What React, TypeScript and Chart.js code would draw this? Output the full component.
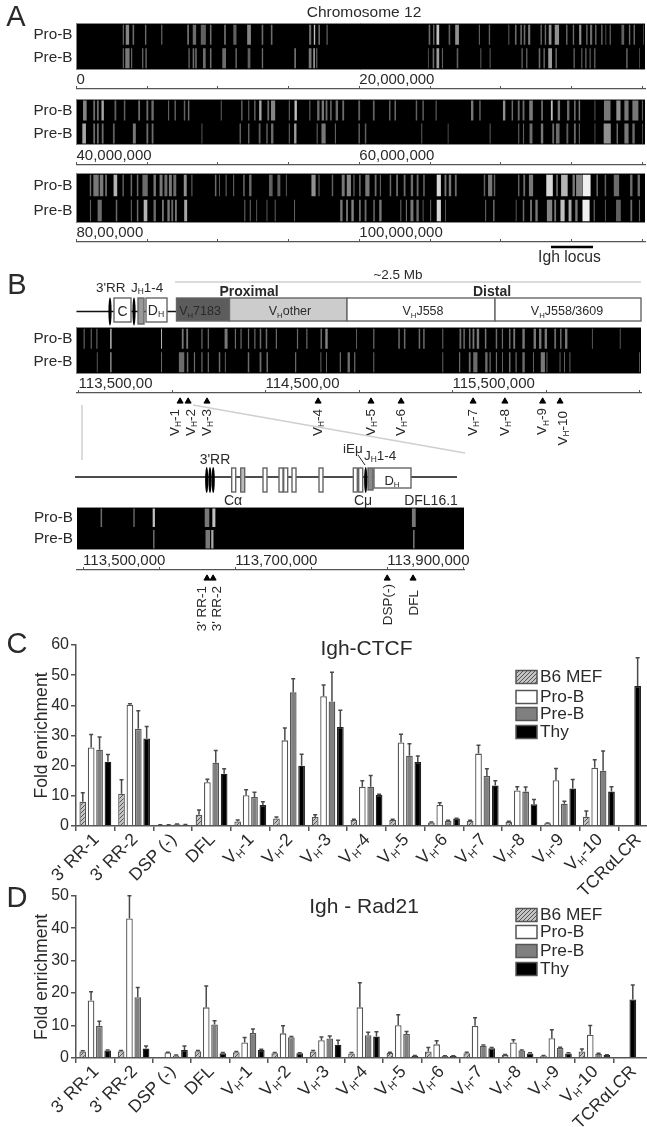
import React, { useEffect, useRef } from "react";
import { Chart, registerables } from "chart.js";
Chart.register(...registerables);

const FONT = '"Liberation Sans", Arial, sans-serif';
Chart.defaults.font.family = FONT;
const INK = "#2a2a2a";

// ---------- binding data ----------
const categories = ["3' RR-1", "3' RR-2", "DSP (-)", "DFL", "V_H-1", "V_H-2", "V_H-3", "V_H-4", "V_H-5", "V_H-6", "V_H-7", "V_H-8", "V_H-9", "V_H-10", "TCRαLCR"];
const seriesNames = ["B6 MEF", "Pro-B", "Pre-B", "Thy"];

const ctcfMef = [8, 10.7, 0.3, 3.7, 1.5, 2.5, 3, 2, 2, 1.2, 1.7, 1.4, 0.9, 3.1, null];
const ctcfPro = [26, 40.2, 0.3, 14.5, 10.2, 28.4, 43, 13, 27.7, 7, 24, 11.8, 15.2, 19.3, null];
const ctcfPre = [25.3, 32.2, 0.6, 21, 9.6, 44.3, 41.3, 13, 23.3, 1.7, 16.6, 11.4, 7.4, 18.3, null];
const ctcfThy = [21.3, 29, 0.4, 17.3, 7, 20, 32.8, 10.3, 21.2, 2.5, 13.4, 7.2, 12.4, 11.4, 46.4];
const ctcfMefErr = [3, 4.6, 0.1, 1.6, 0.5, 0.5, 0.7, 0.2, 0.2, 0.1, 0.2, 0.2, 0.1, 1.9, null];
const ctcfProErr = [4.3, 0.3, 0.1, 1, 1.8, 4.1, 3.7, 2, 2.7, 0.7, 2.8, 1.2, 3.9, 2.7, null];
const ctcfPreErr = [4.2, 6, 0.1, 4, 1.6, 4.5, 9.7, 3.7, 4, 0.2, 2.4, 1.5, 0.8, 6.6, null];
const ctcfThyErr = [2.4, 4, 0.1, 1.7, 1, 3.8, 5.6, 0.2, 2, 0.1, 1.6, 1.6, 3, 1.6, 9.4];

const radMef = [2, 2.1, 0.3, 2.1, 1.8, 1.5, 2, 1.4, 1.6, 2, 1.5, 1, 0.7, 2, null];
const radPro = [17.7, 43, 1.7, 15.6, 4.8, 7.6, 5.5, 15.6, 10.1, 4.2, 9.9, 4.8, 6.1, 7.2, null];
const radPre = [9.9, 18.7, 0.8, 10.3, 7.7, 6.4, 6, 7, 7.4, 0.6, 3.8, 2.3, 3.1, 1.3, null];
const radThy = [2.3, 2.9, 2.5, 1.5, 2.5, 1.5, 4.1, 6.6, 0.7, 0.6, 3, 1.4, 1.4, 0.9, 18];
const radMefErr = [0.2, 0.2, 0, 0.2, 0.2, 0.2, 0.3, 0.3, 0.2, 1.2, 0.3, 0.1, 0.1, 0.8, null];
const radProErr = [2.7, 7, 0.1, 6.6, 1.5, 2.3, 1, 7.6, 3.2, 1.1, 2.5, 0.8, 2.6, 2.8, null];
const radPreErr = [1.4, 3, 0.1, 1.2, 1.2, 0.2, 0.8, 0.9, 0.8, 0.1, 0.2, 0.2, 0.2, 0.2, null];
const radThyErr = [0.2, 0.8, 1.2, 0.2, 0.2, 0.1, 1.4, 1.5, 0.1, 0.1, 0.2, 0.2, 0.2, 0.1, 4.5];

// ---------- signal tracks: [centre in Mb, width in Mb, signal 0-1] ----------
type Band = [number, number, number];
const a1Pro: Band[] = [[3.31,.1,.45],[3.6,.3,.55],[4.02,.14,.45],[4.89,.12,.45],[6.03,.1,.45],[7.89,.12,.6],[8.34,.3,.45],[8.97,.45,.4],[9.49,.14,.45],[10.5,.14,.5],[11.2,.28,.4],[12.2,.33,.55],[13.15,.14,.45],[13.8,.14,.45],[16.52,.19,.45],[16.83,.12,.8],[17.16,.14,.45],[17.72,.1,.45],
[24.96,.14,.45],[25.26,.12,.45],[25.55,.24,.8],[26.37,.14,.4],[26.91,.33,.6],[28.49,.1,.4],[29.2,.12,.4],[30.57,.1,.35],[31.06,.14,.45],[31.44,.14,.45],[31.68,.14,.45],[32.01,.19,.5],[32.86,.12,.45],[33.16,.12,.45],[33.49,.24,.6],[33.97,.38,.6],[34.67,.12,.45],[35.14,.12,.45],[35.62,.19,.6],[36.09,.12,.45],[36.39,.19,.45],[36.72,.12,.45],[37.15,.12,.45],[37.43,.07,.4],[37.74,.1,.45],[38.63,.24,.4],[39.11,.12,.45],[39.44,.12,.45],[40.1,.07,.35]];
const a1Pre: Band[] = [[3.31,.1,.45],[3.6,.38,.5],[3.9,.1,.45],[4.68,.12,.4],[4.92,.12,.45],[7.96,.1,.5],[8.27,.14,.45],[8.45,.14,.45],[9.04,.24,.45],[9.49,.14,.45],[10.44,.33,.45],[11.29,.14,.4],[12.2,.24,.4],[13.15,.12,.45],[15.46,.14,.5],[16.52,.24,.5],[16.8,.12,.8],[16.99,.1,.45],
[24.88,.07,.4],[25.24,.14,.45],[25.55,.24,.65],[25.88,.1,.4],[26.94,.14,.4],[28.59,.1,.35],[29.25,.1,.35],[31.51,.12,.4],[31.84,.12,.4],[32.74,.14,.45],[33.07,.12,.45],[33.49,.33,.65],[33.92,.14,.4],[35.19,.12,.4],[35.73,.1,.4],[36.02,.12,.4],[36.32,.1,.4],[36.65,.12,.4],[38.92,.14,.4],[39.81,.07,.35]];
const a2Pro: Band[] = [[40.59,.32,.55],[41.25,.16,.45],[41.51,.16,.45],[41.85,.21,.7],[42.75,.16,.4],[43.4,.13,.4],[44.43,.16,.45],[45.01,.16,.45],[45.38,.21,.45],[46.51,.1,.4],[46.98,.13,.4],[47.64,.13,.4],[47.93,.13,.45],[50.24,.1,.35],[51.69,.13,.4],[52.18,.1,.4],[52.61,.13,.4],[53,.21,.7],[53.56,.16,.45],[53.9,.37,.55],[55.05,.1,.4],[55.5,.21,.8],[56.5,.1,.4],[57.1,.21,.45],[57.42,.21,.5],[57.68,.16,.45],[57.99,.13,.45],[58.41,.21,.45],[58.86,.16,.45],[59.99,.16,.4],[61.02,.16,.4],[62.15,.13,.4],[62.54,.13,.45],[64.04,.13,.4],[64.51,.13,.4],[65.43,.1,.4],[67.98,.21,.5],[68.53,.13,.4],[70.24,.21,.6],[70.82,.13,.45],[71.27,.16,.45],[71.61,.16,.45],[72.14,.32,.5],[72.92,.16,.45],[73.61,.16,.8],[74.11,.21,.5],[74.77,.21,.45],[75.24,.13,.5],[75.56,.13,.5],[76.66,.08,.4],[77.53,.58,.5],[78.32,.37,.6],[78.89,.37,.5],[79.52,.53,.5],[80.02,.1,.4]];
const a2Pre: Band[] = [[40.54,.32,.7],[41.25,.16,.45],[41.51,.16,.45],[41.85,.16,.45],[42.64,.16,.4],[44.09,.26,.5],[45.01,.16,.45],[45.38,.16,.45],[48.87,.08,.4],[51.58,.13,.4],[52.18,.13,.4],[52.95,.16,.4],[53.47,.13,.4],[53.84,.21,.45],[55.05,.1,.4],[55.47,.21,.65],[57.02,.1,.4],[57.47,.37,.5],[58.31,.1,.4],[59.99,.13,.4],[60.44,.13,.4],[64.41,.1,.35],[66.28,.08,.35],[69.25,.1,.35],[71.27,.1,.4],[71.61,.1,.4],[72.14,.26,.45],[72.92,.21,.5],[73.71,.16,.45],[74.03,.32,.45],[74.71,.16,.4],[75.24,.16,.45],[75.56,.1,.4],[76.66,.08,.35],[77.53,.63,.6],[78.24,.13,.45],[78.89,.37,.5],[79.39,.21,.45],[80.02,.08,.35]];
const a3Pro: Band[] = [[80.99,.13,.45],[81.38,.47,.5],[81.77,.32,.5],[82.09,.16,.45],[82.75,.32,.75],[83.3,.13,.4],[83.88,.13,.45],[84.32,.13,.45],[84.85,.47,.45],[85.53,.21,.5],[85.98,.26,.5],[86.32,.26,.45],[86.64,.26,.5],[86.95,.26,.45],[87.69,.26,.6],[88.16,.1,.4],[89.84,.13,.45],[90.11,.08,.4],[90.58,.1,.4],[91.11,.1,.4],[91.84,.13,.45],[92.29,.21,.45],[93.74,.32,.4],[94.31,.26,.4],[94.84,.08,.4],[96.76,.37,.6],[97.15,.1,.4],[98.1,.13,.4],[98.86,.26,.5],[99.26,.37,.55],[99.62,.1,.45],[100.04,.13,.45],[100.57,.37,.5],[101.15,.16,.45],[101.49,.1,.4],[102.2,.13,.45],[102.67,.16,.45],[103.2,.16,.45],[103.72,.21,.45],[104.12,.16,.45],[104.57,.13,.45],[105.62,.37,.9],[106.09,.16,.5],[106.41,.21,.5],[106.82,.16,.45],[108.85,.13,.4],[109.25,.37,.5],[109.56,.13,.4],[111.27,.13,.4],[111.66,.16,.45],[112.14,.37,.5],[113.45,.58,.9],[113.98,.13,.5],[114.5,.58,.75],[115.16,.21,.5],[115.56,.58,.55],[116.08,.68,1],[116.82,.13,.45],[117.4,.13,.4],[118.18,.47,.45],[119.23,.21,.45],[119.76,.21,.45]];
const a3Pre: Band[] = [[80.99,.1,.4],[81.64,.37,.45],[82.83,.13,.45],[83.88,.1,.4],[84.32,.13,.45],[84.88,.32,.75],[85.53,.21,.45],[86.11,.16,.5],[86.51,.21,.5],[86.77,.16,.45],[87.03,.16,.5],[87.72,.26,.7],[91.9,.1,.4],[92.29,.1,.4],[92.74,.08,.4],[93.47,.08,.4],[94.05,.08,.45],[95.42,.08,.45],[98.73,.21,.5],[99.13,.16,.5],[99.52,.21,.55],[100.04,.16,.45],[100.44,.16,.45],[101.04,.13,.45],[101.49,.21,.5],[102.93,.1,.4],[103.33,.1,.45],[103.72,.26,.5],[104.12,.21,.45],[104.51,.08,.4],[105.04,.1,.4],[105.62,.37,.9],[106.09,.08,.4],[108.93,.1,.4],[109.51,.13,.45],[111.09,.08,.4],[111.61,.13,.45],[112.14,.16,.5],[112.53,.21,.5],[113.45,.47,.55],[113.85,.16,.5],[114.37,.37,.8],[114.9,.26,.7],[115.35,.21,.5],[116.03,.63,1],[116.61,.1,.45],[117.4,.08,.4],[118.32,.42,.4],[119.23,.16,.45],[119.81,.1,.4]];
const bPro: Band[] = [[113.53,.008,.4],[113.568,.008,.4],[113.598,.008,.4],[113.673,.008,.95],[113.944,.006,.85],[114.057,.012,.5],[114.081,.012,.5],[114.16,.008,.45],[114.194,.008,.45],[114.289,.02,.5],[114.339,.008,.45],[114.369,.008,.45],[114.409,.008,.45],[114.443,.008,.45],[114.473,.01,.45],[114.505,.01,.45],[114.558,.008,.45],[114.671,.008,.45],[114.721,.008,.45],[114.798,.01,.45],[114.826,.016,.55],[114.987,.006,.45],[115.079,.008,.45],[115.214,.01,.45],[115.244,.01,.45],[115.323,.01,.45],[115.347,.01,.45],[115.448,.006,.5],[115.542,.012,.45],[115.562,.01,.45],[115.592,.01,.45],[115.612,.012,.5],[115.636,.016,.5],[115.677,.01,.5],[115.735,.01,.45],[115.767,.008,.45],[115.806,.01,.45],[115.83,.012,.5],[115.88,.016,.5],[115.94,.016,.5],[115.969,.016,.5],[115.999,.016,.5],[116.049,.012,.45],[116.079,.01,.45],[116.108,.016,.5],[116.248,.006,.4],[116.397,.006,.4]];
const bPre: Band[] = [[113.6,.006,.4],[113.673,.006,.95],[113.944,.006,.5],[114.051,.036,.45],[114.083,.01,.45],[114.12,.008,.45],[114.16,.008,.45],[114.194,.008,.45],[114.254,.01,.45],[114.285,.006,.45],[114.409,.01,.45],[114.473,.012,.45],[114.509,.01,.45],[114.661,.008,.45],[114.796,.006,.45],[114.826,.006,.45],[114.9,.008,.45],[114.945,.016,.45],[114.977,.008,.45],[115.079,.006,.5],[115.448,.006,.45],[115.538,.008,.45],[115.592,.012,.45],[115.622,.028,.45],[115.681,.016,.45],[115.701,.008,.45],[115.735,.008,.45],[115.767,.006,.45],[115.806,.01,.45],[115.84,.008,.45],[115.88,.016,.45],[115.933,.006,.45],[115.983,.028,.5],[116.005,.006,.45],[116.075,.006,.45],[116.099,.006,.45],[116.128,.006,.45],[116.5,.006,.4]];
const b2Pro: Band[] = [[113.524,.002,.45],[113.567,.002,.4],[113.593,.003,.8],[113.663,.006,.5],[113.672,.004,.8],[113.935,.005,.5]];
const b2Pre: Band[] = [[113.593,.002,.45],[113.664,.006,.5],[113.67,.003,.7],[113.935,.002,.5]];

const rowNames = ["Pro-B", "Pre-B"];
const a1Ticks = [0, 5, 10, 15, 20, 25, 30, 35, 40];
const a1Labels = ["0", "", "", "", "20,000,000", "", "", "", ""];
const a2Ticks = [40, 45, 50, 55, 60, 65, 70, 75, 80];
const a2Labels = ["40,000,000", "", "", "", "60,000,000", "", "", "", ""];
const a3Ticks = [80, 85, 90, 95, 100, 105, 110, 115, 120];
const a3Labels = ["80,00,000", "", "", "", "100,000,000", "", "", "", ""];
const bTicks = [113.5, 114, 114.5, 115, 115.5, 116, 116.5];
const bLabels = ["113,500,00", "", "114,500,00", "", "115,500,000", "", ""];
const b2Ticks = [113.5, 113.6, 113.7, 113.8, 113.9, 114];
const b2Labels = ["113,500,000", "", "113,700,000", "", "113,900,000", ""];

const vhSites = [114.043, 114.086, 114.187, 114.781, 115.064, 115.225, 115.61, 115.78, 115.982, 116.075];
const vhNames = ["V_H-1", "V_H-2", "V_H-3", "V_H-4", "V_H-5", "V_H-6", "V_H-7", "V_H-8", "V_H-9", "V_H-10"];
const ctrlSites = [113.663, 113.671, 113.9, 113.934];
const ctrlNames = ["3' RR-1", "3' RR-2", "DSP(-)", "DFL"];

// ---------- helpers ----------
function rich(ctx: any, text: string, x: number, y: number, size: number, align = "left", weight = "normal") {
  const parts = text.split("_H");
  const subSize = size * 0.62;
  const mainFont = `${weight} ${size}px ${FONT}`;
  const subFont = `${weight} ${subSize}px ${FONT}`;
  ctx.textBaseline = "middle";
  ctx.textAlign = "left";
  ctx.font = subFont;
  const subW = ctx.measureText("H").width;
  ctx.font = mainFont;
  let total = 0;
  parts.forEach((p, i) => { total += ctx.measureText(p).width + (i > 0 ? subW : 0); });
  let cx = align === "right" ? x - total : align === "center" ? x - total / 2 : x;
  parts.forEach((p, i) => {
    if (i > 0) {
      ctx.font = subFont;
      ctx.fillText("H", cx, y + size * 0.27);
      cx += subW;
      ctx.font = mainFont;
    }
    ctx.fillText(p, cx, y);
    cx += ctx.measureText(p).width;
  });
}

function hatch() {
  const c = document.createElement("canvas");
  c.width = 4; c.height = 4;
  const g = c.getContext("2d")!;
  g.fillStyle = "#c4c4c4";
  g.fillRect(0, 0, 4, 4);
  g.strokeStyle = "#555";
  g.lineWidth = 1;
  g.beginPath();
  g.moveTo(-1, 5); g.lineTo(5, -1);
  g.moveTo(-1, 1); g.lineTo(1, -1);
  g.moveTo(3, 5); g.lineTo(5, 3);
  g.stroke();
  return g.createPattern(c, "repeat");
}

const errorBars = {
  id: "errorBars",
  afterDatasetsDraw(chart: any) {
    const { ctx } = chart;
    const y = chart.scales.y;
    chart.data.datasets.forEach((ds: any, di: number) => {
      const meta = chart.getDatasetMeta(di);
      ds.data.forEach((v: any, i: number) => {
        const err = ds.errors && ds.errors[i];
        if (v == null || !err) return;
        const x = meta.data[i].x;
        const y0 = y.getPixelForValue(v);
        const y1 = y.getPixelForValue(v + err);
        ctx.save();
        ctx.strokeStyle = "#4a4a4a";
        ctx.lineWidth = 1.5;
        ctx.beginPath();
        ctx.moveTo(x, y0); ctx.lineTo(x, y1);
        ctx.moveTo(x - 2, y1); ctx.lineTo(x + 2, y1);
        ctx.stroke();
        ctx.restore();
      });
    });
  },
};

const richTicks = {
  id: "richTicks",
  afterDraw(chart: any) {
    const { ctx } = chart;
    const s = chart.scales.x;
    categories.forEach((label, i) => {
      ctx.save();
      ctx.translate(s.getPixelForTick(i) + 1, s.top + 11);
      ctx.rotate(-Math.PI / 4);
      ctx.fillStyle = INK;
      rich(ctx, label, 0, 0, 17.5, "right");
      ctx.restore();
    });
  },
};

const swatchLegend = {
  id: "swatchLegend",
  afterDraw(chart: any, _a: any, opts: any) {
    const { ctx } = chart;
    opts.rows.forEach((rowY: number, i: number) => {
      const ds = chart.data.datasets[i];
      ctx.save();
      ctx.fillStyle = ds.backgroundColor;
      ctx.strokeStyle = "#555";
      ctx.lineWidth = 1.5;
      ctx.fillRect(opts.x, rowY - 6.5, 21, 13);
      ctx.strokeRect(opts.x, rowY - 6.5, 21, 13);
      ctx.fillStyle = INK;
      rich(ctx, ds.label, opts.x + 24, rowY, 17.3);
      ctx.restore();
    });
  },
};

const blackTrack = {
  id: "blackTrack",
  beforeDatasetsDraw(chart: any) {
    const { ctx, chartArea: a } = chart;
    ctx.save();
    ctx.fillStyle = "#000";
    ctx.fillRect(a.left, a.top, a.right - a.left, a.bottom - a.top);
    ctx.restore();
  },
  afterDatasetsDraw(chart: any) {
    const { ctx, chartArea: a } = chart;
    ctx.save();
    ctx.strokeStyle = "#8a8a8a";
    ctx.lineWidth = 1;
    ctx.beginPath();
    ctx.moveTo(a.left, a.top + 0.5); ctx.lineTo(a.right, a.top + 0.5);
    ctx.moveTo(a.left, a.bottom - 0.5); ctx.lineTo(a.right, a.bottom - 0.5);
    ctx.stroke();
    ctx.restore();
  },
};

const siteNames = {
  id: "siteNames",
  afterDatasetsDraw(chart: any, _a: any, opts: any) {
    const { ctx } = chart;
    const meta = chart.getDatasetMeta(0);
    opts.names.forEach((name: string, i: number) => {
      ctx.save();
      ctx.translate(meta.data[i].x + opts.shift[i], chart.chartArea.top + opts.gap[i]);
      ctx.rotate(-Math.PI / 2);
      ctx.fillStyle = INK;
      rich(ctx, name, 0, 0, 13.5, "right");
      ctx.restore();
    });
  },
};

// ---------- schematic, in page units read by an invisible page-sized scale ----------
const schematicLines = [
  [175, 282, 641, 282, "#cfcfcf", 1.5], [193, 405, 465, 453, "#cfcfcf", 1.5], [82, 405, 82, 460, "#cfcfcf", 1.5],
  [76.5, 311.5, 176, 311.5, "#111", 1.5], [75, 477, 457, 477, "#111", 1.5], [358, 455, 365, 465, "#222", 1],
  [551, 247, 593, 247, "#000", 2.5],
];
const schematicBoxes = [
  [176.5, 298, 229.5, 321, "#5c5c5c"], [229.5, 298, 347, 321, "#cccccc"], [347, 298, 495, 321, "#ffffff"], [495, 298, 641, 321, "#ffffff"],
  [114, 298, 131, 322, "#ffffff"], [146, 298, 167, 322, "#ffffff"], [138, 298, 144, 324, "#999999"],
  [231.7, 468, 235.7, 492, "#ffffff"], [240.7, 468, 244.7, 492, "#bbbbbb"], [263, 468, 267, 492, "#ffffff"], [279, 468, 283, 492, "#ffffff"], [283.7, 468, 287.7, 492, "#ffffff"], [292, 468, 296, 492, "#ffffff"], [319, 468, 323, 492, "#ffffff"], [353.3, 468, 357.3, 492, "#ffffff"], [358.7, 468, 362.7, 492, "#ffffff"],
  [374, 468, 411, 488, "#ffffff"], [368, 468, 373, 490, "#888888"],
];
const schematicEllipses = [[110, 311.5, 14], [134, 311.5, 14], [206.7, 480, 13], [210, 480, 13], [213.2, 480, 13], [365.7, 480, 13]];
const schematicTexts: any[] = [
  ["A", 16, 18, 29, "center"], ["B", 17, 286, 29, "center"], ["C", 17, 645, 29, "center"], ["D", 17, 899, 29, "center"],
  ["Chromosome 12", 364, 13, 15.5, "center"], ["Igh locus", 569.5, 258, 15.7, "center"], ["~2.5 Mb", 398, 275, 13.5, "center"],
  ["3'RR", 96, 288, 13.5, "left"], ["J_H1-4", 131, 288, 13.5, "left"],
  ["Proximal", 249, 292, 14, "center", "bold"], ["Distal", 492, 292, 14, "center", "bold"],
  ["V_H7183", 200, 312, 12.5, "center"], ["V_Hother", 290, 312, 12.5, "center"], ["V_HJ558", 423, 312, 12.5, "center"], ["V_HJ558/3609", 567, 312, 12.5, "center"],
  ["C", 122.5, 312, 14, "center"], ["D_H", 156, 311, 14, "center"],
  ["3'RR", 215, 460, 14, "center"], ["Cα", 233, 501, 14, "center"], ["Cμ", 363, 501, 14, "center"], ["DFL16.1", 431, 501, 14, "center"],
  ["iEμ", 353, 449, 13.5, "center"], ["J_H1-4", 364, 456, 13.5, "left"], ["D_H", 392, 481, 13, "center"],
];

const schematic = {
  id: "schematic",
  afterDraw(chart: any) {
    const { ctx } = chart;
    const X = (v: number) => chart.scales.x.getPixelForValue(v);
    const Y = (v: number) => chart.scales.y.getPixelForValue(v);
    ctx.save();
    schematicLines.forEach(([a, b, c, d, col, w]: any) => {
      ctx.strokeStyle = col; ctx.lineWidth = w;
      ctx.beginPath(); ctx.moveTo(X(a), Y(b)); ctx.lineTo(X(c), Y(d)); ctx.stroke();
    });
    schematicBoxes.forEach(([a, b, c, d, col]: any) => {
      ctx.fillStyle = col; ctx.strokeStyle = "#666"; ctx.lineWidth = 1.4;
      ctx.fillRect(X(a), Y(b), X(c) - X(a), Y(d) - Y(b));
      ctx.strokeRect(X(a), Y(b), X(c) - X(a), Y(d) - Y(b));
    });
    schematicEllipses.forEach(([a, b, r]: any) => {
      ctx.fillStyle = "#000";
      ctx.beginPath(); ctx.ellipse(X(a), Y(b), 1.6, r, 0, 0, Math.PI * 2); ctx.fill();
    });
    ctx.fillStyle = INK;
    schematicTexts.forEach(([t, a, b, s, al, w]: any) => rich(ctx, t, X(a), Y(b), s, al, w || "normal"));
    ctx.restore();
  },
};

// ---------- chart builders ----------
const gray = (s: number) => { const v = Math.round(s * 240); return `rgb(${v},${v},${v})`; };

function track(pro: Band[], pre: Band[], min: number, max: number, rightPad: number, left: number, thin: number): any {
  const ds = (bands: Band[], name: string) => ({
    stack: "row",
    data: bands.map(([c, w]) => ({ y: name, x: [c - (w * thin) / 2, c + (w * thin) / 2] })),
    backgroundColor: bands.map(([, , s]) => gray(s)),
    borderWidth: 0,
    inflateAmount: 0,
    categoryPercentage: 1,
    barPercentage: 0.86,
  });
  return {
    type: "bar",
    plugins: [blackTrack],
    data: { labels: rowNames, datasets: [ds(pro, rowNames[0]), ds(pre, rowNames[1])] },
    options: {
      indexAxis: "y", responsive: false, animation: false,
      layout: { padding: { right: rightPad } },
      plugins: { legend: { display: false }, tooltip: { enabled: false } },
      scales: {
        x: { type: "linear", min, max, stacked: false, display: false },
        y: {
          type: "category",
          afterFit: (s: any) => { s.width = left; s.paddingTop = 0; s.paddingBottom = 0; },
          border: { display: false }, grid: { display: false, drawTicks: false },
          ticks: { color: INK, padding: 4, font: { size: 15.3 } },
        },
      },
    },
  };
}

function ruler(ticksAt: number[], labels: string[], min: number, max: number, leftPad: number, rightPad: number, sites?: number[], names?: string[], shift?: number[], gap?: number[]): any {
  return {
    type: "scatter",
    plugins: sites ? [siteNames] : [],
    data: {
      datasets: [{
        data: (sites || []).map((x) => ({ x, y: 9 })),
        pointStyle: "triangle", pointRadius: 3.5, backgroundColor: "#000", borderColor: "#000",
      }],
    },
    options: {
      responsive: false, animation: false,
      layout: { padding: { left: leftPad, right: rightPad } },
      plugins: { legend: { display: false }, tooltip: { enabled: false }, siteNames: { names, shift, gap } },
      scales: {
        x: {
          type: "linear", position: "top", min, max,
          afterFit: (s: any) => { s.height = 22; s.paddingLeft = 0; s.paddingRight = 0; },
          afterBuildTicks: (s: any) => { s.ticks = ticksAt.map((value) => ({ value })); },
          border: { color: "#555", width: 1.2 },
          grid: { drawOnChartArea: false, color: "#555", tickLength: 3 },
          ticks: {
            align: "start", autoSkip: false, maxRotation: 0, padding: -3, color: INK, font: { size: 15 },
            callback: (_v: any, i: number) => labels[i],
          },
        },
        y: { type: "linear", min: 0, max: 70, reverse: true, display: false },
      },
    },
  };
}

function bars(mef: any[], pro: any[], pre: any[], thy: any[], errs: any[][], yMax: number, title: string, titleAt: number, padTop: number, xHeight: number, rows: number[], pattern: any): any {
  const common = { categoryPercentage: 0.866, barPercentage: 0.8, maxBarThickness: 6.7, skipNull: true, borderColor: "#555", borderWidth: 1.3 };
  return {
    type: "bar",
    plugins: [errorBars, richTicks, swatchLegend],
    data: {
      labels: categories,
      datasets: [
        { ...common, label: seriesNames[0], data: mef, errors: errs[0], backgroundColor: pattern },
        { ...common, label: seriesNames[1], data: pro, errors: errs[1], backgroundColor: "#ffffff" },
        { ...common, label: seriesNames[2], data: pre, errors: errs[2], backgroundColor: "#808080" },
        { ...common, label: seriesNames[3], data: thy, errors: errs[3], backgroundColor: "#000000", borderColor: "#222" },
      ],
    },
    options: {
      responsive: false, animation: false,
      layout: { padding: { top: padTop } },
      plugins: {
        legend: { display: false }, tooltip: { enabled: false },
        swatchLegend: { x: 516, rows },
        title: {
          display: true, text: title, fullSize: false, color: INK, font: { size: 21, weight: "normal" },
          padding: { top: titleAt, bottom: -25.2 - titleAt },
        },
      },
      scales: {
        x: {
          type: "category", afterFit: (s: any) => { s.height = xHeight; },
          border: { color: "#555", width: 1.5 },
          grid: { drawOnChartArea: false, color: "#555", tickLength: 5, lineWidth: 1.5 },
          ticks: { display: false },
        },
        y: {
          min: 0, max: yMax,
          afterFit: (s: any) => { s.width = 76; },
          border: { color: "#555", width: 1.5 },
          grid: { drawOnChartArea: false, color: "#555", tickLength: 5, lineWidth: 1.5 },
          ticks: { stepSize: 10, color: INK, padding: 2, font: { size: 16 } },
          title: { display: true, text: "Fold enrichment", color: INK, font: { size: 17.6 }, padding: { top: 32, bottom: 0 } },
        },
      },
    },
  };
}

const overlay: any = {
  type: "scatter",
  plugins: [schematic],
  data: { datasets: [{ data: [] }] },
  options: {
    responsive: false, animation: false,
    plugins: { legend: { display: false }, tooltip: { enabled: false } },
    scales: {
      x: { type: "linear", min: 0, max: 647, display: false },
      y: { type: "linear", min: 0, max: 1127, reverse: true, display: false },
    },
  },
};

const B_MIN = 113.489, B_MAX = 116.508, B2_MIN = 113.492, B2_MAX = 114.001;
const panels: any[] = [
  { top: 23, w: 647, h: 47, make: () => track(a1Pro, a1Pre, 0, 40.2, 2, 76.5, 0.8) },
  { top: 67, w: 647, h: 24, make: () => ruler(a1Ticks, a1Labels, 0, 40.2, 76.5, 2) },
  { top: 99, w: 647, h: 46, make: () => track(a2Pro, a2Pre, 40, 80.2, 2, 76.5, 0.8) },
  { top: 143, w: 647, h: 24, make: () => ruler(a2Ticks, a2Labels, 40, 80.2, 76.5, 2) },
  { top: 173, w: 647, h: 50, make: () => track(a3Pro, a3Pre, 80, 120.2, 2, 76.5, 0.8) },
  { top: 220, w: 647, h: 24, make: () => ruler(a3Ticks, a3Labels, 80, 120.2, 76.5, 2) },
  { top: 327, w: 647, h: 47, make: () => track(bPro, bPre, B_MIN, B_MAX, 6, 76.5, 0.8) },
  { top: 371, w: 647, h: 92, make: () => ruler(bTicks, bLabels, B_MIN, B_MAX, 76.5, 6, vhSites, vhNames, [-5, 3, 0, 0, 0, 0, 0, 0, 0, 3], [16, 16, 16, 16, 16, 16, 16, 16, 15, 18]) },
  { top: 507, w: 647, h: 43, make: () => track(b2Pro, b2Pre, B2_MIN, B2_MAX, 183, 77, 1) },
  { top: 548, w: 647, h: 92, make: () => ruler(b2Ticks, b2Labels, B2_MIN, B2_MAX, 77, 183, ctrlSites, ctrlNames, [-5, 4, 1, 1], [16, 16, 14, 20]) },
  { top: 630, w: 657, h: 266, make: (p: any) => bars(ctcfMef, ctcfPro, ctcfPre, ctcfThy, [ctcfMefErr, ctcfProErr, ctcfPreErr, ctcfThyErr], 60, "Igh-CTCF", -8.6, 15, 70, [47, 67, 84, 102], p) },
  { top: 880, w: 652, h: 247, make: (p: any) => bars(radMef, radPro, radPre, radThy, [radMefErr, radProErr, radPreErr, radThyErr], 50, "Igh - Rad21", -1, 15.7, 69, [35, 52, 71, 89], p) },
  { top: 0, w: 647, h: 1127, make: () => overlay },
];

export default function App() {
  const refs = useRef<(HTMLCanvasElement | null)[]>([]);
  useEffect(() => {
    document.body.style.margin = "0";
    document.documentElement.style.overflow = "hidden";
    const pattern = hatch();
    const charts = panels.map((p, i) => new Chart(refs.current[i] as any, p.make(pattern)));
    return () => charts.forEach((c) => c.destroy());
  }, []);
  return (
    <div style={{ position: "absolute", left: 0, top: 0, width: 647, height: 1127, overflow: "hidden", background: "#fff", filter: "blur(0.45px)" }}>
      {panels.map((p, i) => (
        <canvas
          key={i}
          ref={(el) => { refs.current[i] = el; }}
          width={p.w}
          height={p.h}
          style={{ position: "absolute", left: 0, top: p.top, width: p.w, height: p.h }}
        />
      ))}
    </div>
  );
}
